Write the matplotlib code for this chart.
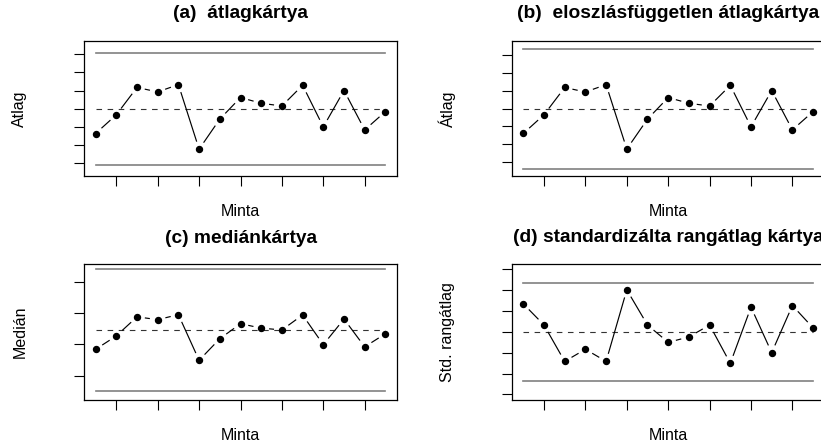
import numpy as np
import matplotlib
matplotlib.use("Agg")
import matplotlib.pyplot as plt

plt.rcParams["font.family"] = ["Liberation Sans", "DejaVu Sans"]

# sample index
minta = np.arange(1, 16)

# (a)/(b) sample means (in sigma-like units, centre = 0)
atlag = [-1.39, -0.35, 1.17, 0.92, 1.33, -2.26, -0.59, 0.61, 0.29, 0.14,
         1.29, -1.02, 1.00, -1.19, -0.17]
atlag_cl = 0.0
atlag_lim_a = (-3.13, 3.11)
atlag_lim_b = (-3.37, 3.31)

# (c) medians
median = [0.84, 1.27, 1.88, 1.79, 1.95, 0.49, 1.18, 1.66, 1.52, 1.46,
          1.94, 0.99, 1.81, 0.92, 1.34]
median_cl = 1.46
median_lim = (-0.49, 3.41)

# (d) standardised rank means
rang = [1.33, 0.32, -1.42, -0.84, -1.42, 2.00, 0.32, -0.51, -0.25, 0.32,
        -1.51, 1.17, -1.00, 1.25, 0.18]
rang_cl = 0.0
rang_lim = (-2.36, 2.32)

W, H = 821, 445
fig = plt.figure(figsize=(W / 100, H / 100), dpi=100)


def make_ax(left, top, right, bottom):
    return fig.add_axes([left / W, 1 - bottom / H, (right - left) / W, (bottom - top) / H])


def type_b(ax, x, y, gap=8.5):
    # R-style type="b": points plus segments with gaps around points
    ax.plot(x, y, "o", color="black", ms=4.3, zorder=4)
    pts = ax.transData.transform(np.column_stack([x, y]))
    inv = ax.transData.inverted()
    for p0, p1 in zip(pts[:-1], pts[1:]):
        d = p1 - p0
        L = np.hypot(*d)
        if L <= 2 * gap:
            continue
        u = d / L
        a, b = inv.transform([p0 + u * gap, p1 - u * gap])
        ax.plot([a[0], b[0]], [a[1], b[1]], color="black", lw=0.85, zorder=3)


def panel(ax, y, cl, lims, ylim, yticks, title, ylabel, title_off):
    ax.set_xlim(0.44, 15.56)
    ax.set_ylim(*ylim)
    ax.set_xticks(range(2, 15, 2))
    ax.set_yticks(yticks)
    ax.set_xticklabels([])
    ax.set_yticklabels([])
    ax.tick_params(direction="out", length=7, width=0.8, color="black")
    for s in ax.spines.values():
        s.set_linewidth(0.9)
    x0, x1 = minta[0], minta[-1]
    for lim in lims:
        ax.plot([x0, x1], [lim, lim], color="#808080", lw=1.2, zorder=2)
    ax.plot([x0, x1], [cl, cl], color="#333333", lw=0.8,
            linestyle=(0, (5, 5)), zorder=2)
    type_b(ax, minta, y)
    ax.set_title(title, fontsize=13.8, fontweight="bold", y=1 + title_off, va="center")
    ax.set_ylabel(ylabel, fontsize=11.5, va="center")
    ax.yaxis.set_label_coords(-0.205, 0.5)
    ax.set_xlabel("Minta", fontsize=11.5, va="center")
    ax.xaxis.set_label_coords(0.5, -0.264)


ax_a = make_ax(84, 41, 397, 176)
panel(ax_a, atlag, atlag_cl, atlag_lim_a, (-3.75, 3.75), range(-3, 4),
      "(a)  átlagkártya", "Atlag", 0.143)

ax_b = make_ax(511.7, 41, 824.7, 176)
panel(ax_b, atlag, atlag_cl, atlag_lim_b, (-3.76, 3.76), range(-3, 4),
      "(b)  eloszlásfüggetlen átlagkártya", "Átlag", 0.143)

ax_c = make_ax(84, 264.3, 397, 399.7)
panel(ax_c, median, median_cl, median_lim, (-0.77, 3.56), range(0, 4),
      "(c) mediánkártya", "Medián", 0.128)

ax_d = make_ax(511.7, 264.3, 824.7, 399.7)
panel(ax_d, rang, rang_cl, rang_lim, (-3.25, 3.22), range(-3, 4),
      "(d) standardizálta rangátlag kártya", "Std. rangátlag", 0.14)

fig.savefig("out.png", dpi=100)
